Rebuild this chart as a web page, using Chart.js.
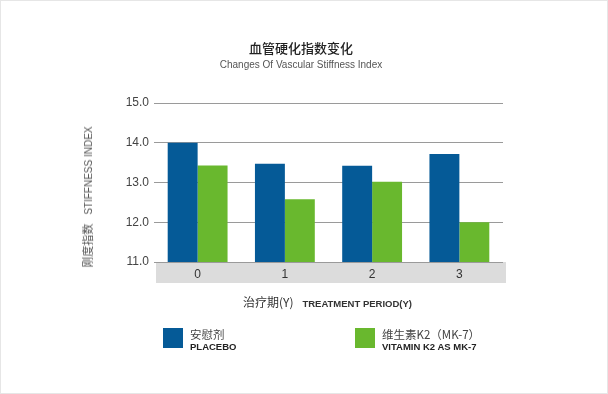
<!DOCTYPE html>
<html>
<head>
<meta charset="utf-8">
<script src="https://cdn.jsdelivr.net/npm/chart.js@4/dist/chart.umd.min.js"></script>
<style>
  html,body{margin:0;padding:0;background:#fff;}
  #wrap{position:relative;width:608px;height:394px;box-sizing:border-box;border:1px solid #e6e6e6;overflow:hidden;font-family:"Liberation Sans",Arial,sans-serif;}
  #c{position:absolute;left:-1px;top:-1px;}
  .t{position:absolute;white-space:nowrap;}
  #title{left:0;width:600px;top:39px;text-align:center;font-family:"Noto Sans CJK SC",sans-serif;font-size:13px;font-weight:500;color:#222;line-height:16px;}
  #sub{left:0;width:600px;top:57px;text-align:center;font-size:10px;color:#555;line-height:13px;}
  #ytitle{left:87px;top:196px;transform:translate(-50%,-50%) rotate(-90deg);color:#555;line-height:14px;}
  #xtitle{left:242px;top:293px;color:#333;line-height:16px;}
  .cn{font-family:"Noto Sans CJK SC",sans-serif;font-size:11px;}
  .cnx{font-family:"Noto Sans CJK SC",sans-serif;font-size:12px;}
  .en{font-size:10px;}
  .enb{font-size:9.5px;font-weight:bold;}
  .leg{position:absolute;top:327px;}
  .sw{position:absolute;left:0;top:0;width:20px;height:20px;}
  .l1{position:absolute;left:27px;top:-2px;font-family:"Noto Sans CJK SC",sans-serif;font-size:11.5px;color:#444;white-space:nowrap;line-height:16px;}
  .l2{position:absolute;left:27px;top:13px;font-size:9.5px;font-weight:bold;color:#222;white-space:nowrap;line-height:12px;}
</style>
</head>
<body>
<div id="wrap">
  <canvas id="c" width="608" height="394"></canvas>
  <div class="t" id="title">血管硬化指数变化</div>
  <div class="t" id="sub">Changes Of Vascular Stiffness Index</div>
  <div class="t" id="ytitle"><span class="cn">刚度指数</span>&nbsp;&nbsp;<span class="en">STIFFNESS INDEX</span></div>
  <div class="t" id="xtitle"><span class="cnx">治疗期(Y)</span>&nbsp;&nbsp;<span class="enb">TREATMENT PERIOD(Y)</span></div>
  <div id="legend"></div>
</div>
<script>
// ---- data ----
const categories = ["0", "1", "2", "3"];
const placebo = [14.0, 13.47, 13.42, 13.72];
const vitaminK2 = [13.43, 12.58, 13.02, 12.0];
const seriesNamesCN = ["安慰剂", "维生素K2（MK-7）"];
const seriesNamesEN = ["PLACEBO", "VITAMIN K2 AS MK-7"];
const yTicks = [11.0, 12.0, 13.0, 14.0, 15.0];

const colors = ["#055a97", "#69b82e"];
const legendX = [162, 354];

// legend (HTML)
const legend = document.getElementById("legend");
seriesNamesCN.forEach((n, i) => {
  const d = document.createElement("div");
  d.className = "leg";
  d.style.left = legendX[i] + "px";
  d.innerHTML = '<div class="sw" style="background:' + colors[i] + '"></div>' +
    '<div class="l1">' + n + '</div><div class="l2">' + seriesNamesEN[i] + '</div>';
  legend.appendChild(d);
});

const bandPlugin = {
  id: "band",
  beforeDraw(chart) {
    const x = chart.scales.x, ctx = chart.ctx;
    ctx.save();
    ctx.fillStyle = "#dcdcdc";
    ctx.fillRect(x.left + 2, x.top, x.right - x.left + 1, x.bottom - x.top);
    ctx.restore();
  }
};

new Chart(document.getElementById("c"), {
  type: "bar",
  data: {
    labels: categories,
    datasets: [
      { label: seriesNamesEN[0], data: placebo, backgroundColor: colors[0] },
      { label: seriesNamesEN[1], data: vitaminK2, backgroundColor: colors[1] }
    ]
  },
  options: {
    responsive: false,
    animation: false,
    devicePixelRatio: 1,
    layout: { padding: { left: 0, right: 105, top: 103, bottom: 111 } },
    plugins: { legend: { display: false }, tooltip: { enabled: false }, title: { display: false } },
    datasets: { bar: { categoryPercentage: 0.686, barPercentage: 1.0, borderWidth: 0 } },
    scales: {
      x: {
        grid: { display: false, drawTicks: false },
        border: { display: false },
        ticks: { color: "#333", font: { family: "'Liberation Sans', Arial", size: 12 }, padding: 5 },
        afterFit(s) { s.height = 21; }
      },
      y: {
        min: 11, max: 15,
        afterBuildTicks(s) { s.ticks = yTicks.map(v => ({ value: v })); },
        afterFit(s) { s.width = 154; },
        grid: { color: "#9a9a9a", lineWidth: 1, drawTicks: false },
        border: { display: false },
        ticks: { color: "#444", font: { family: "'Liberation Sans', Arial", size: 12 }, padding: 5,
                 callback: v => Number(v).toFixed(1) }
      }
    }
  },
  plugins: [bandPlugin]
});
</script>
</body>
</html>
